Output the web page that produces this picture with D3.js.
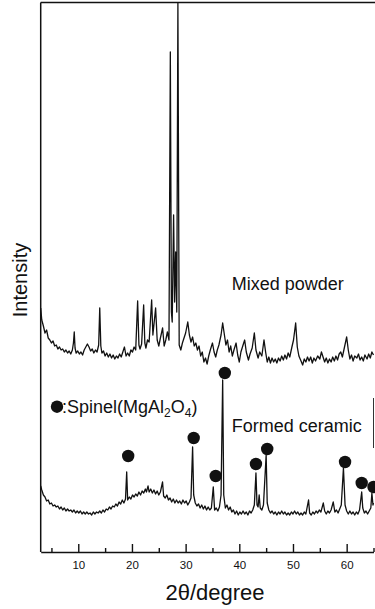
<!DOCTYPE html>
<html>
<head>
<meta charset="utf-8">
<script src="https://cdn.jsdelivr.net/npm/d3@7"></script>
<style>
  html, body { margin: 0; padding: 0; background: #fff; }
  svg { display: block; font-family: "Liberation Sans", Arial, sans-serif; }
</style>
</head>
<body>
<svg id="chart" width="375" height="609"></svg>
<script>
// XRD patterns: [2theta (deg), intensity (a.u.)]
const mixedPowder = [
  [3.0,244],[3.2,232],[3.5,226],[3.8,219],[4.1,222],[4.4,214],[4.7,212],[5.0,209],[5.3,211],[5.6,206],
  [5.9,207],[6.2,203],[6.5,205],[6.8,202],[7.1,203],[7.4,200],[7.7,202],[8.0,199],[8.3,201],[8.6,198],
  [8.9,202],[9.1,209],[9.25,220],[9.4,204],[9.6,199],[9.9,201],[10.2,198],[10.5,200],[10.8,197],[11.1,202],
  [11.4,205],[11.7,208],[12.0,205],[12.3,201],[12.6,203],[12.9,199],[13.2,202],[13.5,200],[13.8,207],[14.0,244],
  [14.2,206],[14.4,199],[14.7,201],[15.0,196],[15.3,199],[15.6,195],[15.9,198],[16.2,194],[16.5,197],[16.8,193],
  [17.1,196],[17.4,194],[17.7,198],[18.0,195],[18.3,200],[18.6,205],[18.9,196],[19.2,199],[19.5,196],[19.8,202],
  [20.1,200],[20.4,205],[20.7,202],[21.06,251],[21.3,207],[21.5,203],[21.8,208],[22.18,247],[22.4,209],[22.6,204],
  [22.9,212],[23.2,210],[23.67,252],[23.9,217],[24.41,244],[24.7,212],[25.0,206],[25.3,214],[25.71,224],[26.0,206],
  [26.3,212],[26.6,220],[26.9,212],[27.15,500],[27.35,240],[27.5,230],[27.76,337],[27.95,250],[28.15,300],[28.35,240],
  [28.56,549],[28.8,207],[29.1,202],[29.4,209],[29.7,214],[30.0,219],[30.4,230],[30.7,217],[31.0,210],[31.3,215],
  [31.6,206],[31.9,209],[32.2,202],[32.5,206],[32.8,196],[33.1,200],[33.4,190],[33.7,194],[34.0,188],[34.3,196],
  [34.6,202],[35.0,209],[35.3,200],[35.6,195],[35.9,202],[36.2,207],[36.6,217],[36.9,229],[37.2,218],[37.5,207],
  [37.8,212],[38.1,200],[38.4,206],[38.7,196],[39.0,202],[39.4,209],[39.7,197],[40.0,190],[40.3,200],[40.7,207],
  [41.0,212],[41.3,200],[41.7,192],[42.0,198],[42.4,204],[42.8,219],[43.1,202],[43.5,194],[43.8,200],[44.2,196],
  [44.6,212],[44.9,200],[45.2,190],[45.5,195],[45.8,189],[46.1,194],[46.4,190],[46.7,193],[47.0,189],[47.3,194],
  [47.6,191],[47.9,196],[48.2,192],[48.5,197],[48.8,193],[49.1,199],[49.4,195],[49.8,205],[50.1,212],[50.5,229],
  [50.8,205],[51.1,196],[51.5,191],[51.8,187],[52.1,193],[52.4,190],[52.7,195],[53.0,191],[53.3,195],[53.6,189],
  [53.9,194],[54.2,191],[54.6,196],[55.0,193],[55.3,200],[55.6,195],[55.9,190],[56.2,194],[56.5,189],[56.8,193],
  [57.1,190],[57.4,195],[57.7,191],[58.0,196],[58.3,192],[58.6,198],[58.9,200],[59.2,195],[59.6,205],[60.0,215],
  [60.3,202],[60.6,193],[60.9,197],[61.2,191],[61.5,196],[61.9,194],[62.2,198],[62.5,192],[62.8,195],[63.1,191],
  [63.4,197],[63.8,193],[64.1,198],[64.4,194],[64.7,200],[65.0,197]
];

const formedCeramic = [
  [3.0,66],[3.2,62],[3.5,57],[3.8,55],[4.1,51],[4.4,52],[4.7,48],[5.0,49],[5.3,46],[5.6,47],
  [5.9,45],[6.2,46],[6.5,43],[6.8,45],[7.1,42],[7.4,44],[7.7,41],[8.0,43],[8.3,41],[8.6,42],
  [8.9,40],[9.2,42],[9.5,39],[9.8,41],[10.1,39],[10.4,41],[10.7,38],[11.0,40],[11.3,38],[11.6,40],
  [11.9,38],[12.2,39],[12.5,37],[12.8,40],[13.1,38],[13.4,40],[13.7,39],[14.0,41],[14.3,39],[14.6,42],
  [14.9,40],[15.2,43],[15.5,42],[15.8,45],[16.1,43],[16.4,46],[16.7,45],[17.0,48],[17.3,46],[17.6,50],
  [17.9,48],[18.2,52],[18.5,49],[18.8,53],[19.02,80],[19.2,52],[19.5,55],[19.8,53],[20.1,57],[20.4,55],
  [20.7,58],[21.0,56],[21.3,60],[21.6,57],[21.9,61],[22.2,59],[22.5,63],[22.7,60],[23.0,66],[23.2,60],
  [23.5,63],[23.8,59],[24.1,62],[24.4,58],[24.7,61],[25.0,57],[25.3,60],[25.7,70],[25.9,56],[26.2,54],
  [26.5,57],[26.8,52],[27.1,54],[27.4,50],[27.7,53],[28.0,49],[28.3,52],[28.6,49],[28.9,51],[29.2,48],
  [29.5,52],[29.8,49],[30.1,51],[30.4,47],[30.7,50],[31.0,54],[31.3,105],[31.5,57],[31.8,49],[32.1,46],
  [32.4,48],[32.7,44],[33.0,47],[33.3,43],[33.6,46],[33.9,42],[34.2,45],[34.5,42],[34.8,44],[35.15,65],
  [35.4,42],[35.7,44],[36.0,41],[36.3,45],[36.6,57],[36.9,172],[37.1,57],[37.4,44],[37.7,47],[38.0,42],
  [38.3,45],[38.6,40],[38.9,42],[39.2,38],[39.5,41],[39.8,37],[40.1,40],[40.4,38],[40.7,41],[41.0,38],
  [41.3,40],[41.6,37],[41.9,41],[42.2,39],[42.5,42],[42.8,47],[43.1,79],[43.3,47],[43.5,45],[43.7,57],
  [43.9,44],[44.2,42],[44.5,47],[45.0,97],[45.2,49],[45.5,42],[45.8,39],[46.1,41],[46.4,38],[46.7,40],
  [47.0,37],[47.3,40],[47.6,38],[47.9,41],[48.2,38],[48.5,40],[48.8,37],[49.1,39],[49.4,37],[49.7,40],
  [50.0,38],[50.3,41],[50.6,38],[50.9,40],[51.2,37],[51.5,39],[51.8,37],[52.1,40],[52.4,38],[52.9,52],
  [53.1,39],[53.4,37],[53.7,40],[54.0,38],[54.3,41],[54.6,39],[54.9,42],[55.2,40],[55.65,49],[55.9,41],
  [56.2,38],[56.5,41],[56.8,39],[57.1,42],[57.5,50],[57.8,40],[58.1,42],[58.4,39],[58.7,43],[59.0,47],
  [59.4,84],[59.7,47],[60.0,41],[60.3,38],[60.6,41],[60.9,38],[61.2,40],[61.5,37],[61.8,40],[62.1,38],
  [62.4,42],[62.8,60],[63.0,44],[63.3,39],[63.6,41],[63.9,38],[64.2,41],[64.5,44],[64.7,59],[64.9,47],
  [65.0,49]
];

// spinel marker positions (2theta, intensity level of the dot)
const spinelAngle = [19.3, 31.5, 35.6, 37.3, 43.1, 45.2, 59.7, 62.8, 65.0];
const spinelLevel = [96, 114, 76, 179, 88, 103, 90, 69, 65];

const majorTicks = [10, 20, 30, 40, 50, 60];
const minorTicks = [5, 15, 25, 35, 45, 55, 65];

const FONT = 18;
const svg = d3.select('#chart');

const x = d3.scaleLinear().domain([3, 65]).range([40.7, 373.5]);
const y = d3.scaleLinear().domain([0, 550]).range([552, 2]);

svg.append('defs').append('clipPath').attr('id', 'plot')
  .append('rect').attr('x', x(3)).attr('y', 0).attr('width', 375 - x(3)).attr('height', y(0));

// frame
svg.append('line').attr('x1', x(3)).attr('x2', x(3)).attr('y1', 2.5).attr('y2', y(0))
  .attr('stroke', '#111').attr('stroke-width', 1.5);
svg.append('line').attr('x1', x(3)).attr('x2', 375).attr('y1', 2.5).attr('y2', 2.5)
  .attr('stroke', '#111').attr('stroke-width', 1.5);
svg.append('line').attr('x1', x(65)).attr('x2', x(65)).attr('y1', 398).attr('y2', 448)
  .attr('stroke', '#333').attr('stroke-width', 1);

// bottom axis, ticks pointing inward
const axis = svg.append('g').attr('transform', `translate(0,${y(0)})`)
  .call(d3.axisBottom(x).tickValues(majorTicks).tickSize(-8).tickSizeOuter(0).tickPadding(9));
axis.select('.domain').attr('stroke', '#111').attr('stroke-width', 1.5);
axis.selectAll('.tick line').attr('stroke', '#111').attr('stroke-width', 1.4);
axis.selectAll('.tick text').attr('font-size', 11.5).attr('fill', '#111')
  .attr('font-family', '"Liberation Sans", Arial, sans-serif');

const minor = svg.append('g').attr('transform', `translate(0,${y(0)})`)
  .call(d3.axisBottom(x).tickValues(minorTicks).tickSize(-4).tickSizeOuter(0).tickFormat(''));
minor.select('.domain').remove();
minor.selectAll('.tick line').attr('stroke', '#111').attr('stroke-width', 1.4);

// spectra
const line = d3.line().x(d => x(d[0])).y(d => y(d[1]));
const plot = svg.append('g').attr('clip-path', 'url(#plot)');
[mixedPowder, formedCeramic].forEach(series => {
  plot.append('path').datum(series).attr('d', line)
    .attr('fill', 'none').attr('stroke', '#111').attr('stroke-width', 1.3)
    .attr('stroke-linejoin', 'round');
});

// spinel markers
plot.selectAll('circle.spinel').data(spinelAngle).enter().append('circle')
  .attr('class', 'spinel')
  .attr('cx', d => x(d)).attr('cy', (d, i) => y(spinelLevel[i])).attr('r', 6.2)
  .attr('fill', '#111');

// labels
svg.append('text').attr('x', 231.7).attr('y', 290).attr('font-size', FONT).attr('fill', '#111')
  .text('Mixed powder');
svg.append('text').attr('x', 231.7).attr('y', 431.7).attr('font-size', FONT).attr('fill', '#111')
  .text('Formed ceramic');

svg.append('circle').attr('cx', 57).attr('cy', 406.7).attr('r', 6.2).attr('fill', '#111');
const legend = svg.append('text').attr('x', 62).attr('y', 413.3).attr('font-size', FONT).attr('fill', '#111');
legend.append('tspan').text(':Spinel(MgAl');
legend.append('tspan').attr('font-size', 12).attr('dy', 4).text('2');
legend.append('tspan').attr('dy', -4).text('O');
legend.append('tspan').attr('font-size', 12).attr('dy', 4).text('4');
legend.append('tspan').attr('dy', -4).text(')');

svg.append('text').attr('transform', 'translate(27,280) rotate(-90)')
  .attr('text-anchor', 'middle').attr('font-size', 20).attr('fill', '#111').text('Intensity');
svg.append('text').attr('x', 215).attr('y', 600).attr('text-anchor', 'middle')
  .attr('font-size', 22).attr('fill', '#111').text('2θ/degree');
</script>
</body>
</html>
